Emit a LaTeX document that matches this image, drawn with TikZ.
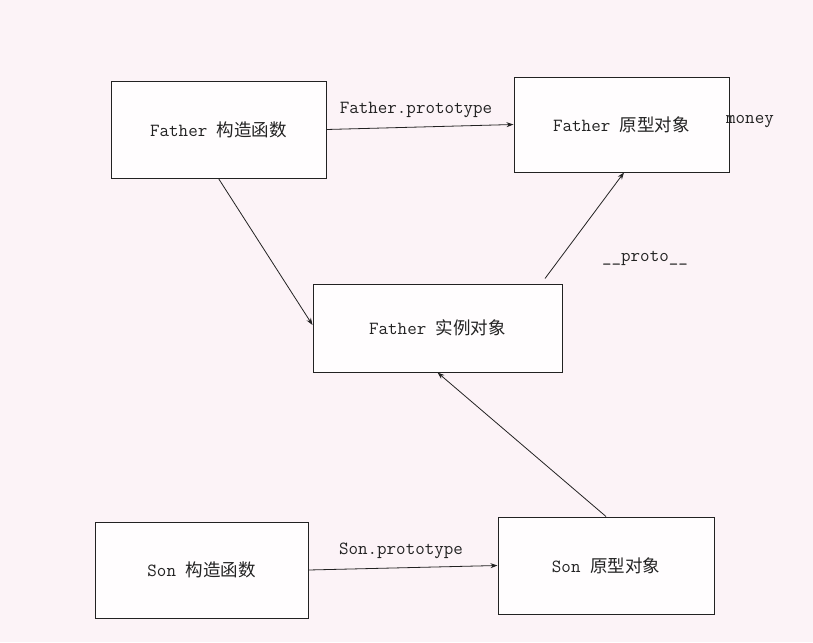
\documentclass[tikz,border=0pt]{standalone}
\usepackage{fontspec}
\newfontfamily\cjk{Noto Sans CJK SC}
\usetikzlibrary{arrows.meta,calc}
\definecolor{bgpink}{HTML}{FCF3F7}
\definecolor{boxfill}{HTML}{FFFDFE}
\definecolor{ink}{HTML}{222222}
\tikzset{
  objbox/.style={draw=ink, line width=1pt, fill=boxfill, minimum width=#1, inner sep=0pt,
    font=\ttfamily\fontsize{18.5}{20}\selectfont, text=ink},
  objbox/.default=215pt,
  conn/.style={draw=ink, line width=0.8pt, -{Stealth[length=7pt,width=5pt]}},
  lbl/.style={font=\ttfamily\fontsize{18.5}{20}\selectfont, text=ink, inner sep=0pt}
}
\newcommand{\zh}[1]{{\cjk\fontsize{17.5}{18}\selectfont #1}}
\begin{document}
\begin{tikzpicture}[x=1pt,y=-1pt]
\useasboundingbox (0,0) rectangle (813,642);
\fill[bgpink] (0,0) rectangle (813,642);
\node[objbox=215pt, minimum height=97pt] (fc) at (218.5,129.5) {Father \zh{构造函数}};
\node[objbox=215pt, minimum height=95pt] (fp) at (621.5,124.5) {Father \zh{原型对象}};
\node[objbox=249pt, minimum height=88pt] (fi) at (437.5,328) {Father \zh{实例对象}};
\node[objbox=213pt, minimum height=96pt] (sc) at (201.5,570) {Son \zh{构造函数}};
\node[objbox=216pt, minimum height=97pt] (sp) at (606,565.5) {Son \zh{原型对象}};
\draw[conn] (fc.east) -- (fp.west);
\draw[conn] (fc.south) -- ($(fi.west)+(0,-3)$);
\coordinate (ps) at ($(fi.north)+(107.5,-5)$);
\draw[conn] (ps) -- ($(fp.south)+(2.5,0)$);
\draw[conn] (sp.north) -- (fi.south);
\draw[conn] (sc.east) -- (sp.west);
\node[lbl] (l1) at (416,110) {Father.prototype};
\node[lbl] (l2) at (645,258) {\_\_proto\_\_};
\node[lbl] (l3) at (401,551) {Son.prototype};
\node[lbl] (l4) at (750,122) {money};
\end{tikzpicture}
\end{document}
